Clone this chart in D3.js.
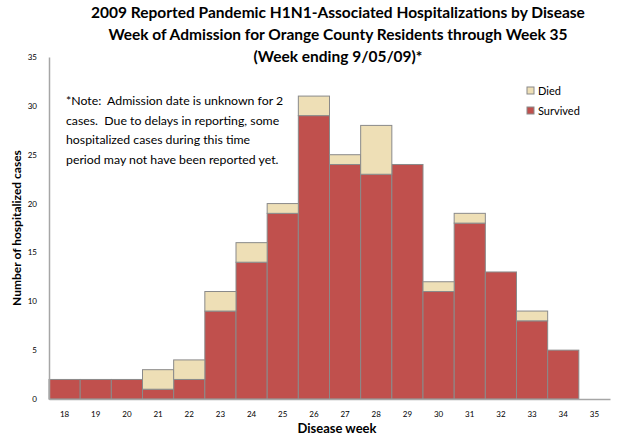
<!DOCTYPE html>
<html>
<head>
<meta charset="utf-8">
<script src="https://cdn.jsdelivr.net/npm/d3@7"></script>
<style>
  body { margin: 0; background: #fff; }
  svg text { font-family: Lato, "Open Sans", sans-serif; fill: #000; }
</style>
</head>
<body>
<main></main>
<script>
// data
var weeks    = ["18","19","20","21","22","23","24","25","26","27","28","29","30","31","32","33","34","35"];
var survived = [2, 2, 2, 1, 2, 9, 14, 19, 29, 24, 23, 24, 11, 18, 13, 8, 5, 0];
var died     = [0, 0, 0, 2, 2, 2, 2, 1, 2, 1, 5, 0, 1, 1, 0, 1, 0, 0];
var yTicks   = [0, 5, 10, 15, 20, 25, 30, 35];

var titleLines = [
  "2009 Reported Pandemic H1N1-Associated Hospitalizations by Disease",
  "Week of Admission for Orange County Residents through Week 35",
  "(Week ending 9/05/09)*"
];
var noteLines = [
  "*Note:  Admission date is unknown for 2",
  "cases.  Due to delays in reporting, some",
  "hospitalized cases during this time",
  "period may not have been reported yet."
];

var svg = d3.select("main").append("svg").attr("width", 629).attr("height", 435),
    margin = {left: 49, right: 19, top: 57, bottom: 36},
    width = 629 - margin.left - margin.right,
    height = 435 - margin.top - margin.bottom;

var g = svg.append("g").attr("transform", "translate(" + margin.left + "," + margin.top + ")");

var x = d3.scaleBand().domain(weeks).range([0, width]).padding(0);
var y = d3.scaleLinear().domain([0, 35]).range([height, 0]);

var rows = weeks.map(function(w, i) { return {week: w, survived: survived[i], died: died[i]}; });
var stack = d3.stack().keys(["survived", "died"])(rows);
var colors = {survived: "#C0504D", died: "#EEDFB6"};

g.selectAll("g.layer")
  .data(stack)
  .enter().append("g")
    .attr("class", "layer")
    .attr("fill", d => colors[d.key])
  .selectAll("rect")
  .data(d => d.filter(p => p[1] > p[0]))
  .enter().append("rect")
    .attr("x", d => x(d.data.week))
    .attr("width", x.bandwidth())
    .attr("y", d => y(d[1]))
    .attr("height", d => y(d[0]) - y(d[1]))
    .attr("stroke", "#8a8a8a")
    .attr("stroke-width", 1);

// axes
var yAxis = g.append("g").call(d3.axisLeft(y).tickValues(yTicks).tickSize(0).tickPadding(12));
yAxis.select(".domain").attr("stroke", "#a6a6a6").attr("stroke-width", 1.5);
yAxis.selectAll("text").style("font-size", "8px").attr("fill", "#222");

var xAxis = g.append("g").attr("transform", "translate(0," + height + ")")
  .call(d3.axisBottom(x).tickSize(0).tickPadding(12));
xAxis.select(".domain").attr("stroke", "#a6a6a6").attr("stroke-width", 1.5);
xAxis.selectAll("text").style("font-size", "8px").attr("fill", "#222");

// axis titles
svg.append("text")
  .attr("x", 337).attr("y", 433)
  .attr("text-anchor", "middle")
  .style("font-size", "13px").style("font-weight", "bold")
  .text("Disease week");

svg.append("text")
  .attr("transform", "translate(21,228) rotate(-90)")
  .attr("text-anchor", "middle")
  .style("font-size", "12px").style("font-weight", "bold")
  .text("Number of hospitalized cases");

// title
svg.append("g").selectAll("text")
  .data(titleLines)
  .enter().append("text")
    .attr("x", 338)
    .attr("y", (d, i) => 18 + i * 22)
    .attr("text-anchor", "middle")
    .style("font-size", "15.5px").style("font-weight", "bold")
    .text(d => d);

// note
svg.append("g").selectAll("text")
  .data(noteLines)
  .enter().append("text")
    .attr("x", 66)
    .attr("y", (d, i) => 105 + i * 19.5)
    .attr("xml:space", "preserve")
    .style("white-space", "pre")
    .style("font-size", "12.3px")
    .text(d => d);

// legend
var legend = svg.append("g").attr("transform", "translate(527,87)");
var legendKeys = ["died", "survived"];
var legendLabels = {died: "Died", survived: "Survived"};
legendKeys.forEach(function(k, i) {
  legend.append("rect")
    .attr("x", 0).attr("y", i * 20)
    .attr("width", 7).attr("height", 7)
    .attr("fill", colors[k]).attr("stroke", "#8a8a8a");
  legend.append("text")
    .attr("x", 11).attr("y", i * 20 + 8)
    .style("font-size", "11px")
    .text(legendLabels[k]);
});
</script>
</body>
</html>
